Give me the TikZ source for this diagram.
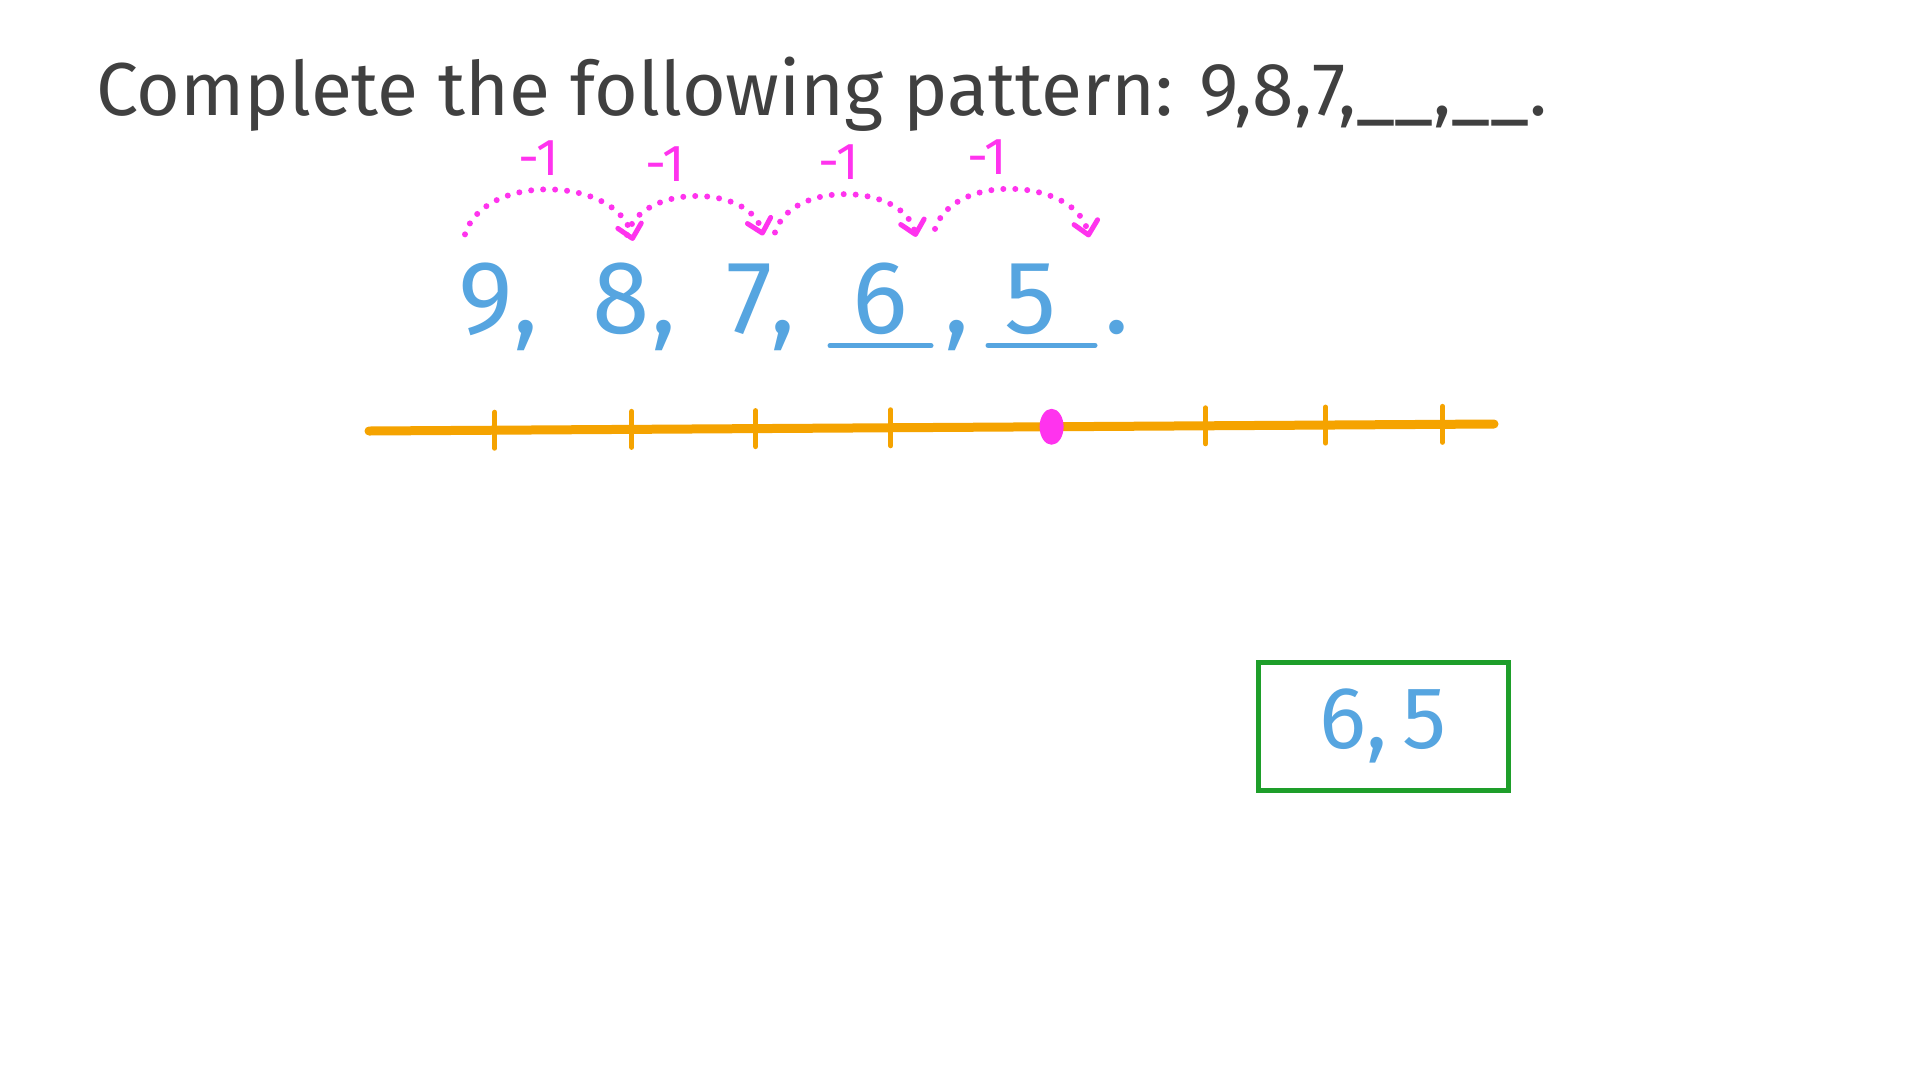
\documentclass[tikz,border=0pt]{standalone}
\usepackage{fontspec}
\setmainfont{Fira Sans}
\usetikzlibrary{arrows.meta, positioning, shapes.geometric, calc}

\definecolor{chalk}{HTML}{404040}
\definecolor{hoppink}{HTML}{FF33EE}
\definecolor{sky}{HTML}{56A5E0}
\definecolor{amber}{HTML}{F5A300}
\definecolor{leaf}{HTML}{1E9E2A}

\begin{document}
\begin{tikzpicture}[x=1pt,y=-1pt,node distance=135pt,
	num/.style={text=sky,font=\fontsize{104}{104}\selectfont,inner sep=0pt},
	punct/.style={text=sky,font=\fontsize{104}{104}\selectfont,inner sep=0pt,anchor=base},
	hop/.style={color=hoppink,line width=6pt,line cap=round,dash pattern=on 0pt off 12pt,
		-{Straight Barb[round,length=13pt,width=24pt,line width=5pt]}},
	hoplabel/.style={font=\fontsize{52}{52}\selectfont,inner sep=0pt,above=12pt},
	blank/.style={draw=sky,line width=5pt,line cap=round},
	axis/.style={draw=amber,line width=9pt,line cap=round},
	tick/.style={draw=amber,line width=5pt,line cap=round}]

	\useasboundingbox[fill=white] (0,0) rectangle (1920,1080);

	\node (title) [anchor=base west,text=chalk,font=\fontsize{75}{75}\selectfont,inner sep=0pt] at (96,115)
		{Complete the following pattern: 9,8,7,\_\_,\_\_.};

	% the sequence
	\node (n9) [num] at (486,299) {9};
	\node (n8) [num,on grid,right=of n9] {8};
	\node (n7) [num,on grid,right=129pt of n8] {7};
	\node (n6) [num,on grid,right=130pt of n7] {6};
	\node (n5) [num,on grid,right=151pt of n6] {5};

	\node (c9) [punct] at ($(n9.base)+(40,0)$) {,};
	\node (c8) [punct] at ($(n8.base)+(43,0)$) {,};
	\node (c7) [punct] at ($(n7.base)+(33,0)$) {,};
	\node (c6) [punct] at ($(n6.base)+(77,0)$) {,};
	\node (c5) [punct] at ($(n5.base)+(86,0)$) {.};

	\draw [blank] ($(n6.base)+(-50,12)$) -- ($(n6.base)+(51,12)$);
	\draw [blank] ($(n5.base)+(-43,12)$) -- ($(n5.base)+(64,12)$);

	% the hops
	\path [hop]
	($(n9.north)+(-21,-28)$) edge [bend left=75] node [hoplabel,xshift=-12pt] {-1} ($(n8.north)+(12,-22)$)
	($(n8.north)+(6,-28)$) edge [bend left=75] node [hoplabel,xshift=-30pt] {-1} ($(n7.north)+(13,-28)$)
	($(n7.north)+(25,-31)$) edge [bend left=75] node [hoplabel,xshift=-8pt] {-1} ($(n6.north)+(36,-26)$)
	($(n6.north)+(55,-34)$) edge [bend left=75] node [hoplabel,xshift=-27pt] {-1} ($(n5.north)+(58,-26)$);

	% number line
	\coordinate (L) at (369,431);
	\coordinate (R) at (1494,424);
	\draw [axis] (L) -- (R);
	\foreach \x in {492,629,753,888,1203,1323,1440}
		\draw [tick] ($(L)!(\x,0)!(R)$) ++(0,-18) -- ++(0,36);
	\node (dot) [ellipse,fill=hoppink,minimum width=24pt,minimum height=36pt,inner sep=0pt]
		at ($(L)!(1049,0)!(R)$) {};

	% answer
	\node (ans) [draw=leaf,line width=5pt,minimum width=250pt,minimum height=128pt,
		text=sky,font=\fontsize{88}{88}\selectfont] at (1383,726) {6,\,5};

\end{tikzpicture}
\end{document}
